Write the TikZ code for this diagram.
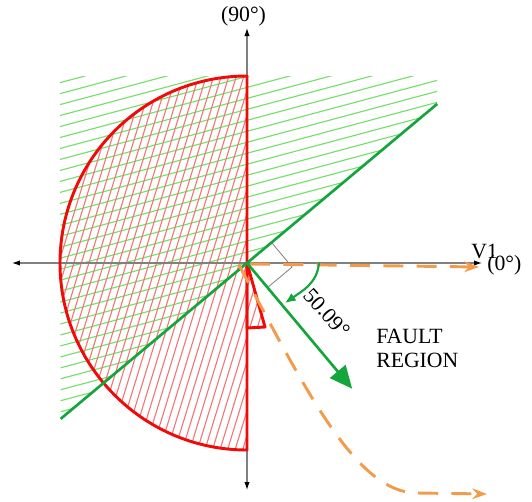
\documentclass[tikz,border=0pt]{standalone}
\usepackage{fontspec}
\setmainfont{Liberation Serif}
\usetikzlibrary{calc,arrows.meta}

\definecolor{relred}{RGB}{240,10,10}
\definecolor{relgreen}{RGB}{20,165,60}
\definecolor{hatchred}{RGB}{242,120,120}
\definecolor{hatchgreen}{RGB}{115,225,105}
\definecolor{traceorange}{RGB}{242,155,75}

\begin{document}
\begin{tikzpicture}[x=0.75pt,y=0.75pt,
  axisline/.style={draw=gray,line width=0.8pt,<->,>={Latex[length=6pt,width=4pt,color=black]}},
  redline/.style={draw=relred,line width=2.2pt,line join=round},
  greenline/.style={draw=relgreen,line width=2pt},
  redhatch/.style={draw=hatchred,line width=0.85pt},
  greenhatch/.style={draw=hatchgreen,line width=0.85pt},
  orangedash/.style={draw=traceorange,line width=2.2pt,dash pattern=on 15pt off 10pt,-{Stealth[length=11pt,width=8pt]}},
  lbl/.style={inner sep=0pt,font=\fontsize{16.3}{18}\selectfont}]
  \useasboundingbox (-247,-238) rectangle (285,263);

  \coordinate (O) at (0,0);
  \coordinate (L) at (-235,0);
  \coordinate (R) at (235,0);
  \coordinate (T) at (0,235);
  \coordinate (B) at (0,-227);

  % characteristic line, 90 - 50.09 = 39.91 deg
  \coordinate (G1) at (219.91:243);
  \coordinate (G2) at (39.91:248);

  % green hatch above the line
  \begin{scope}
    \clip (G1) -- (-187,187) -- (190,187) -- (G2) -- cycle;
    \begin{scope}[rotate=15]
      \foreach \k in {-26,...,26} \draw[greenhatch] (-300,\k*10.6) -- (300,\k*10.6);
    \end{scope}
  \end{scope}

  % red hatch in semicircle and triangle
  \coordinate (K1) at (0,-65);
  \coordinate (K2) at (18,-64);
  \begin{scope}
    \clip (0,187) arc (90:270:187) -- cycle (O) -- (K1) -- (K2) -- cycle;
    \begin{scope}[rotate=73]
      \foreach \k in {-27,...,27} \draw[redhatch] (-250,\k*7.2) -- (250,\k*7.2);
    \end{scope}
  \end{scope}

  \draw[axisline] (L) -- (R);
  \draw[axisline] (B) -- (T);

  \draw[redline] (0,187) arc (90:270:187) -- cycle;
  \draw[redline] (O) -- (K1) -- (K2) -- cycle;

  \draw[greenline] (G1) -- (G2);

  % right angle mark
  \coordinate (Q1) at (39.91:32);
  \coordinate (Q2) at (-50.09:32);
  \draw[gray,line width=0.6pt] (Q1) -- ($(Q1)+(Q2)$) -- (Q2);

  % orange traces
  \coordinate (H1) at (3,-1);
  \coordinate (H2) at (232,-4);
  \coordinate (S1) at (-8,-2);
  \coordinate (S2) at (170,-230);
  \coordinate (S3) at (240,-231);
  \draw[orangedash] (H1) -- (H2);
  \draw[orangedash] (S1) .. controls (60,-130) and (110,-230) .. (S2) -- (S3);

  % fault direction and angle
  \coordinate (F) at (-50.09:164);
  \draw[greenline,-{Triangle[length=17pt,width=15pt]}] (O) -- (F);
  \coordinate (A1) at (72,0);
  \coordinate (A2) at (38,-40);
  \draw[greenline,line width=1.6pt,-{Latex[length=8pt,width=7pt]}] (A1) to[out=-95,in=35] (A2);

  \node[lbl] (lbl90) at (-3.5,247) {(90°)};
  \node[lbl,anchor=base west] (lblv) at (224,5) {V1};
  \node[lbl,anchor=base west] (lbl0) at (240,-7) {(0°)};
  \node[lbl,rotate=-48] (lblang) at (80,-50) {50.09°};
  \node[lbl,align=left,anchor=west] (lblf) at (129,-85) {FAULT\\REGION};
\end{tikzpicture}
\end{document}
